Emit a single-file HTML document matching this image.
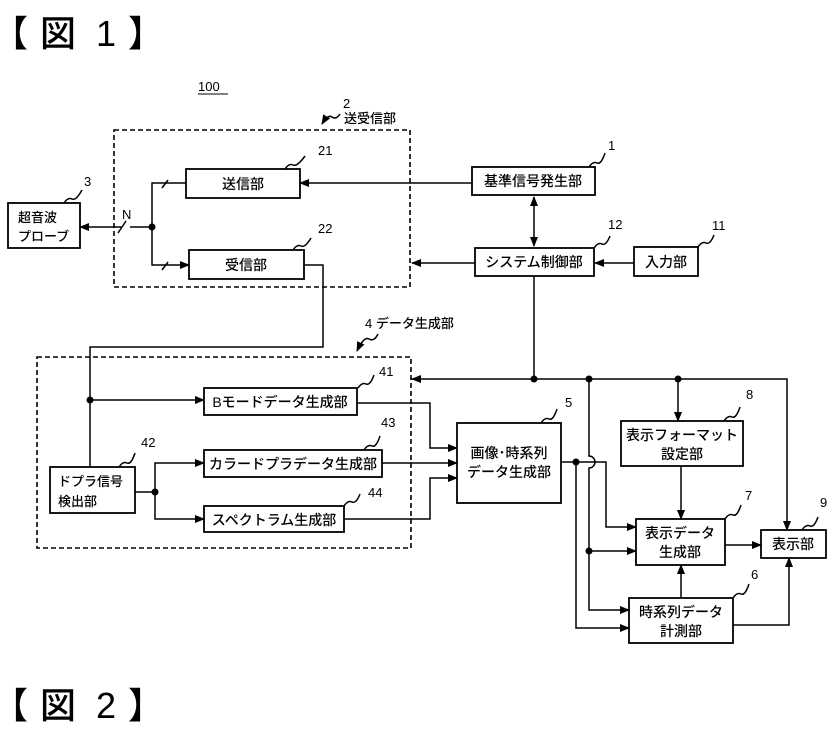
<!DOCTYPE html>
<html><head><meta charset="utf-8"><style>
html,body{margin:0;padding:0;background:#fff;}
svg{display:block;}
text{font-family:"Liberation Sans","Noto Sans CJK JP",sans-serif;fill:#000;}
.b{fill:#fff;stroke:#000;stroke-width:1.8;}
.l{fill:none;stroke:#000;stroke-width:1.5;}
.d{fill:none;stroke:#000;stroke-width:1.6;stroke-dasharray:5,3;}
.t{font-size:14px;text-anchor:middle;font-weight:500;}
.n{font-size:13px;font-weight:500;}
.h{font-size:36px;font-weight:500;}
</style></head><body>
<svg width="834" height="736" viewBox="0 0 834 736" xmlns="http://www.w3.org/2000/svg">
<defs>
<marker id="a" markerWidth="10" markerHeight="10" refX="9" refY="5" orient="auto" markerUnits="userSpaceOnUse"><path d="M0,1 L10,5 L0,9 z" fill="#000"/></marker>
<marker id="as" markerWidth="10" markerHeight="10" refX="1" refY="5" orient="auto" markerUnits="userSpaceOnUse"><path d="M10,1 L0,5 L10,9 z" fill="#000"/></marker>
</defs>
<text x="-8" y="46" class="h">【</text><text x="40" y="46" class="h">図</text><text x="96" y="46" class="h">1</text><text x="128" y="46" class="h">】</text>
<text x="-8" y="718" class="h">【</text><text x="40" y="718" class="h">図</text><text x="96" y="718" class="h">2</text><text x="128" y="718" class="h">】</text>
<text x="198" y="91" class="n">100</text>
<line x1="198" y1="94" x2="228" y2="94" stroke="#000" stroke-width="1"/>

<rect x="114" y="130" width="296" height="157" class="d"/>
<rect x="37" y="357" width="374" height="191" class="d"/>
<text x="343" y="108" class="n">2</text>
<text x="344" y="123" class="n">送受信部</text>
<path d="M340,114 q-4,6 -8,3 q-4,-3 -10,7" class="l" marker-end="url(#a)"/>
<text x="365" y="328" class="n">4  データ生成部</text>
<path d="M378,334 q-4,8 -9,5 q-5,-3 -12,12" class="l" marker-end="url(#a)"/>

<rect x="8" y="203" width="72" height="45" class="b"/>
<text x="18" y="222" class="n">超音波</text><text x="18" y="241" class="n">プローブ</text>
<rect x="186" y="169" width="114" height="29" class="b"/><text x="243" y="189" class="t">送信部</text>
<rect x="189" y="250" width="115" height="29" class="b"/><text x="246" y="270" class="t">受信部</text>
<rect x="472" y="167" width="123" height="28" class="b"/><text x="533" y="186" class="t">基準信号発生部</text>
<rect x="475" y="248" width="119" height="28" class="b"/><text x="534" y="267" class="t">システム制御部</text>
<rect x="634" y="247" width="64" height="29" class="b"/><text x="666" y="267" class="t">入力部</text>
<rect x="204" y="388" width="153" height="27" class="b"/><text x="280" y="407" class="t">Bモードデータ生成部</text>
<rect x="204" y="450" width="178" height="27" class="b"/><text x="293" y="469" class="t">カラードプラデータ生成部</text>
<rect x="204" y="506" width="140" height="26" class="b"/><text x="274" y="525" class="t">スペクトラム生成部</text>
<rect x="50" y="467" width="85" height="46" class="b"/>
<text x="58" y="486" class="n">ドプラ信号</text><text x="58" y="506" class="n">検出部</text>
<rect x="457" y="423" width="104" height="80" class="b"/>
<text x="509" y="458" class="t">画像･時系列</text><text x="509" y="477" class="t">データ生成部</text>
<rect x="621" y="421" width="122" height="45" class="b"/>
<text x="682" y="440" class="t">表示フォーマット</text><text x="682" y="459" class="t">設定部</text>
<rect x="636" y="519" width="89" height="46" class="b"/>
<text x="680" y="538" class="t">表示データ</text><text x="680" y="557" class="t">生成部</text>
<rect x="629" y="598" width="104" height="45" class="b"/>
<text x="681" y="617" class="t">時系列データ</text><text x="681" y="636" class="t">計測部</text>
<rect x="761" y="530" width="65" height="28" class="b"/><text x="793" y="549" class="t">表示部</text>

<text x="84" y="186" class="n">3</text><path d="M64,203 q4,-6 8,-4 q4,2 10,-9" class="l"/>
<text x="318" y="155" class="n">21</text><path d="M285,169 q4,-6 8,-4 q4,2 12,-9" class="l"/>
<text x="318" y="233" class="n">22</text><path d="M293,250 q4,-6 8,-4 q4,2 10,-8" class="l"/>
<text x="608" y="150" class="n">1</text><path d="M589,167 q4,-6 8,-4 q4,2 8,-10" class="l"/>
<text x="608" y="229" class="n">12</text><path d="M594,248 q4,-6 8,-4 q4,2 8,-8" class="l"/>
<text x="712" y="230" class="n">11</text><path d="M698,247 q4,-6 8,-4 q4,2 8,-8" class="l"/>
<text x="379" y="376" class="n">41</text><path d="M358,388 q4,-6 8,-4 q4,2 8,-9" class="l"/>
<text x="381" y="427" class="n">43</text><path d="M364,450 q4,-6 8,-4 q4,2 8,-10" class="l"/>
<text x="368" y="497" class="n">44</text><path d="M344,506 q4,-6 8,-4 q4,2 8,-8" class="l"/>
<text x="141" y="447" class="n">42</text><path d="M119,467 q4,-6 8,-4 q4,2 8,-10" class="l"/>
<text x="565" y="407" class="n">5</text><path d="M541,423 q4,-6 8,-4 q4,2 8,-10" class="l"/>
<text x="746" y="399" class="n">8</text><path d="M724,421 q4,-6 8,-4 q4,2 8,-10" class="l"/>
<text x="745" y="500" class="n">7</text><path d="M725,519 q4,-6 8,-4 q4,2 8,-10" class="l"/>
<text x="820" y="507" class="n">9</text><path d="M802,530 q4,-6 8,-4 q4,2 8,-9" class="l"/>
<text x="751" y="579" class="n">6</text><path d="M733,598 q4,-6 8,-4 q4,2 8,-10" class="l"/>

<line x1="472" y1="183" x2="300" y2="183" class="l" marker-end="url(#a)"/>
<line x1="534" y1="197" x2="534" y2="246" class="l" marker-start="url(#as)" marker-end="url(#a)"/>
<line x1="475" y1="263" x2="412" y2="263" class="l" marker-end="url(#a)"/>
<line x1="634" y1="263" x2="595" y2="263" class="l" marker-end="url(#a)"/>
<line x1="152" y1="227" x2="130" y2="227" class="l"/>
<line x1="122" y1="227" x2="80" y2="227" class="l" marker-end="url(#a)"/>
<line x1="118" y1="233" x2="126" y2="221" class="l"/>
<text x="122" y="219" class="n">N</text>
<circle cx="152" cy="227" r="3.5"/>
<path d="M152,227 V183 H186" class="l"/>
<path d="M152,227 V265 H189" class="l" marker-end="url(#a)"/>
<line x1="162" y1="188" x2="168" y2="180" class="l"/>
<line x1="162" y1="270" x2="168" y2="262" class="l"/>
<path d="M304,265 H323 V347 H90 V467" class="l"/>
<circle cx="90" cy="400" r="3.5"/>
<line x1="90" y1="400" x2="204" y2="400" class="l" marker-end="url(#a)"/>
<path d="M135,492 H155" class="l"/>
<circle cx="155" cy="492" r="3.5"/>
<path d="M155,492 V463 H204" class="l" marker-end="url(#a)"/>
<path d="M155,492 V519 H204" class="l" marker-end="url(#a)"/>
<path d="M357,403 H430 V448 H457" class="l" marker-end="url(#a)"/>
<line x1="382" y1="463" x2="457" y2="463" class="l" marker-end="url(#a)"/>
<path d="M344,519 H430 V478 H457" class="l" marker-end="url(#a)"/>

<line x1="534" y1="276" x2="534" y2="379" class="l"/>
<line x1="534" y1="379" x2="412" y2="379" class="l" marker-end="url(#a)"/>
<path d="M534,379 H787 V530" class="l" marker-end="url(#a)"/>
<circle cx="534" cy="379" r="3.5"/><circle cx="589" cy="379" r="3.5"/><circle cx="678" cy="379" r="3.5"/>
<line x1="678" y1="379" x2="678" y2="421" class="l" marker-end="url(#a)"/>
<path d="M589,379 V456 a5,5 0 0 1 0,12 V610 H629" class="l" marker-end="url(#a)"/>
<circle cx="589" cy="551" r="3.5"/>
<line x1="589" y1="551" x2="636" y2="551" class="l" marker-end="url(#a)"/>
<path d="M561,462 H606 V527 H636" class="l" marker-end="url(#a)"/>
<circle cx="576" cy="462" r="3.5"/>
<path d="M576,462 V628 H629" class="l" marker-end="url(#a)"/>
<line x1="681" y1="466" x2="681" y2="519" class="l" marker-end="url(#a)"/>
<line x1="725" y1="545" x2="761" y2="545" class="l" marker-end="url(#a)"/>
<line x1="681" y1="598" x2="681" y2="565" class="l" marker-end="url(#a)"/>
<path d="M733,625 H789 V558" class="l" marker-end="url(#a)"/>
</svg>
</body></html>
